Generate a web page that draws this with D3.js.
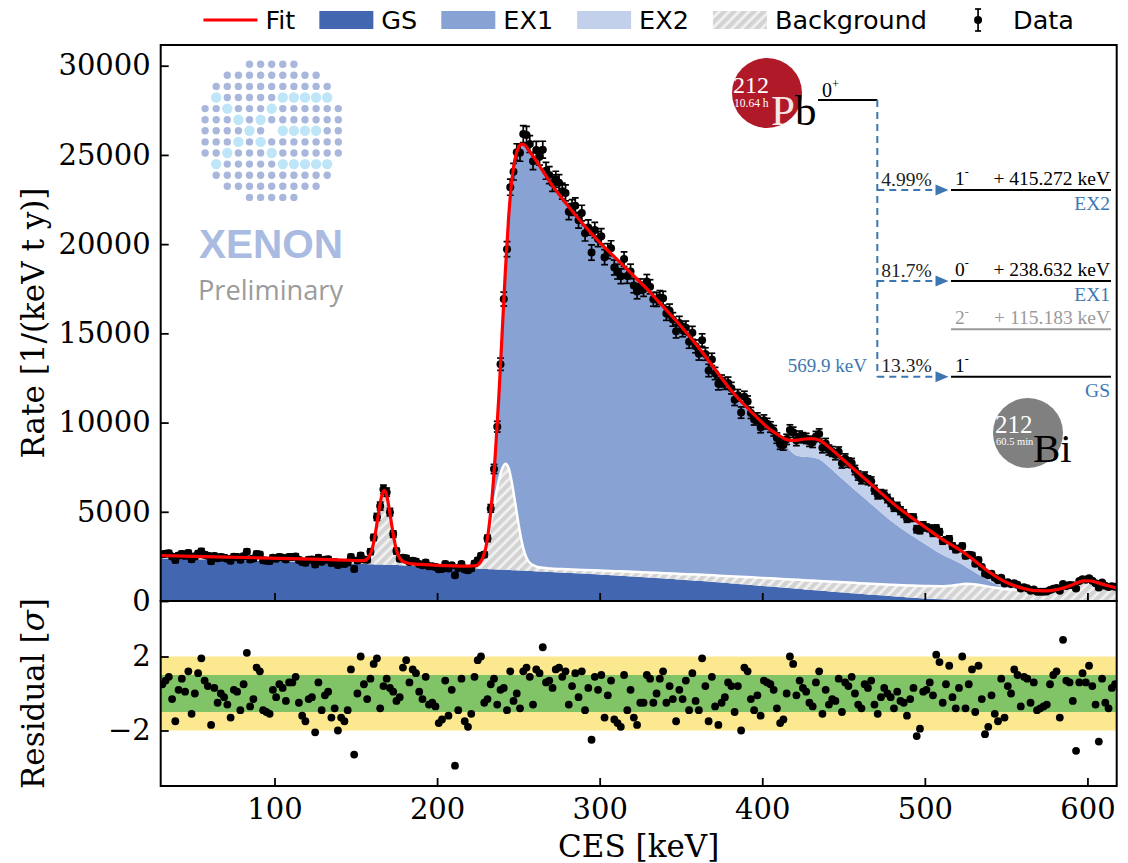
<!DOCTYPE html>
<html>
<head>
<meta charset="utf-8">
<script src="https://cdn.jsdelivr.net/npm/d3@7"></script>
<style>
  body {margin: 0; background: #ffffff;}
</style>
</head>
<body>
<div id="chart"></div>
<script>
//-- Fit components on an energy grid [keV] -> rate [1/(keV t y)]
var comp_energy = [30, 50, 70, 90, 110, 130, 150, 155, 158, 160, 162, 164, 166, 167.5, 169, 171, 173, 175, 177,
  180, 185, 190, 200, 210, 220, 224, 226, 228, 230, 232, 234, 236, 238, 240, 242, 244, 246, 248, 250,
  252, 254, 256, 260, 265, 270, 280, 290, 300, 310, 320, 330, 340, 350, 360, 370, 380, 390, 400, 405,
  410, 414, 418, 422, 426, 430, 435, 440, 450, 460, 470, 480, 490, 500, 510, 520, 525, 530, 540, 550,
  560, 566, 570, 575, 580, 585, 590, 594, 598, 602, 606, 612, 618];
var comp_gs = [2380, 2345, 2305, 2260, 2210, 2150, 2085, 2070, 2060, 2055, 2050, 2045, 2040, 2035, 2030, 2025, 2020, 2015, 2005,
  1995, 1975, 1955, 1915, 1875, 1835, 1818, 1810, 1802, 1794, 1786, 1778, 1770, 1762, 1754, 1746, 1738, 1730, 1722, 1714,
  1706, 1698, 1690, 1672, 1650, 1628, 1582, 1535, 1485, 1432, 1376, 1318, 1258, 1195, 1130, 1062, 992, 920, 846, 808,
  770, 740, 710, 680, 650, 620, 583, 546, 472, 400, 330, 262, 198, 140, 92, 55, 40, 28, 12, 4,
  1, 0, 0, 0, 0, 0, 0, 0, 0, 0, 0, 0, 0];
var comp_bg = [170, 155, 155, 160, 170, 180, 185, 190, 400, 840, 1720, 2880, 3880, 4160, 3880, 2880, 1720, 840, 400,
  175, 105, 95, 85, 95, 125, 170, 300, 600, 1150, 2000, 3050, 4100, 5000, 5650, 5950, 5700, 4900, 3800, 2650,
  1650, 950, 560, 300, 210, 190, 195, 205, 220, 240, 260, 280, 300, 325, 350, 375, 400, 425, 450, 462,
  475, 485, 495, 505, 515, 525, 538, 550, 575, 600, 625, 650, 675, 700, 740, 850, 920, 910, 780, 660,
  610, 590, 580, 570, 620, 720, 880, 1030, 1130, 1120, 1030, 870, 730];
var comp_ex1 = [0, 0, 0, 0, 0, 0, 0, 0, 0, 0, 0, 0, 0, 0, 0, 0, 0, 0, 0,
  0, 0, 0, 0, 0, 0, 0, 0, 0, 56, 414, 1172, 2630, 4738, 7596, 10804, 14062, 16970, 19278, 21036,
  22244, 22902, 23050, 22828, 22240, 21582, 20423, 19360, 18395, 17528, 16664, 15802, 14842, 13880, 12820, 11663, 10508, 9555, 8704, 8330,
  8055, 7605, 7145, 6935, 6915, 6905, 6819, 6504, 5733, 4980, 4245, 3518, 2907, 2360, 1798, 1275, 980, 722, 318, 56,
  0, 0, 0, 0, 0, 0, 0, 0, 0, 0, 0, 0, 0];
var comp_ex2 = [0, 0, 0, 0, 0, 0, 0, 0, 0, 0, 0, 0, 0, 0, 0, 0, 0, 0, 0,
  0, 0, 0, 0, 0, 0, 0, 0, 0, 0, 0, 0, 0, 0, 0, 0, 0, 0, 0, 0,
  0, 0, 0, 0, 0, 0, 0, 0, 0, 0, 0, 0, 0, 0, 0, 0, 0, 0, 0, 0,
  0, 250, 650, 900, 1000, 1050, 1080, 1100, 1120, 1120, 1100, 1070, 1020, 950, 870, 770, 710, 640, 490, 330,
  110, 10, 0, 0, 0, 0, 0, 0, 0, 0, 0, 0, 0];

//-- Data: 2 keV bins starting at 31 keV
var bin_first = 31;
var bin_width = 2;
var data_rate = [
  2620, 2650, 2670, 2490, 2300, 2550, 2640, 2530, 2690, 2340,
  2500, 2660, 2780, 2590, 2540, 2230, 2520, 2400, 2470, 2430,
  2370, 2260, 2480, 2460, 2310, 2510, 2760, 2330, 2380, 2630,
  2600, 2280, 2260, 2240, 2430, 2370, 2470, 2430, 2330, 2470,
  2470, 2500, 2300, 2190, 2140, 2310, 2320, 2040, 2430, 2200,
  2310, 2340, 2130, 2190, 2020, 2110, 2080, 2160, 2470, 1800,
  2270, 2550, 2330, 2310, 2760, 3560, 4710, 5320, 6260, 6100,
  4980, 3750, 2800, 2370, 2420, 2400, 2190, 2260, 2220, 2070,
  2000, 2160, 1950, 1950, 1910, 1780, 1800, 2080, 1820, 2000,
  1450, 1850, 2070, 1760, 1720, 1820, 2100, 2280, 2530, 2600,
  3510, 5190, 7400, 9770, 13270, 16920, 19720, 23190, 24060, 25150,
  25120, 26170, 26120, 25610, 24650, 25280, 24900, 25290, 24110, 23870,
  23420, 23630, 23440, 22970, 22870, 21820, 22050, 22150, 21340, 21740,
  20610, 20930, 19530, 20790, 20290, 20440, 19270, 19610, 19770, 18690,
  18460, 18200, 19160, 18210, 18470, 17680, 17340, 17650, 17470, 17900,
  17610, 16910, 16900, 17010, 16970, 16110, 16260, 15780, 15120, 15580,
  15180, 15320, 14530, 15030, 14270, 13860, 14620, 13840, 12920, 13540,
  12750, 12170, 12330, 12190, 12220, 11930, 11280, 11530, 10560, 11440,
  11180, 10540, 10170, 10240, 9730, 10130, 9940, 9750, 9540, 9130,
  8790, 8740, 9060, 9590, 9460, 8990, 9240, 9150, 9110, 8950,
  8890, 9220, 9360, 8590, 8830, 8460, 8380, 8190, 8360, 7720,
  7980, 7760, 7730, 7340, 7030, 6820, 6980, 6770, 6710, 6240,
  5960, 6010, 5970, 5740, 5530, 5250, 5310, 5060, 4900, 4620,
  4670, 4670, 4020, 3970, 4240, 4120, 4070, 3810, 4080, 3870,
  3360, 3420, 3480, 3080, 2880, 2940, 3080, 2530, 2590, 2560,
  2090, 2300, 1910, 1530, 1450, 1530, 1310, 1160, 1300, 980,
  1050, 950, 1000, 910, 700, 770, 720, 580, 640, 520,
  520, 520, 530, 620, 680, 730, 580, 950, 840, 900,
  880, 700, 1120, 1220, 1190, 1280, 1140, 1000, 750, 1030,
  850, 780, 830, 800];
var data_err = [
  150, 150, 150, 150, 150, 150, 150, 150, 150, 150,
  150, 150, 150, 150, 150, 150, 150, 150, 150, 150,
  148, 148, 148, 148, 148, 148, 148, 148, 148, 148,
  147, 147, 147, 147, 147, 147, 147, 147, 147, 147,
  145, 145, 145, 145, 145, 145, 145, 145, 145, 145,
  144, 144, 144, 144, 144, 144, 144, 144, 144, 144,
  143, 143, 143, 146, 154, 172, 197, 222, 235, 231,
  210, 183, 160, 147, 141, 139, 138, 137, 136, 136,
  134, 134, 134, 134, 134, 134, 134, 134, 134, 134,
  133, 133, 133, 133, 133, 133, 133, 135, 142, 155,
  180, 215, 255, 300, 345, 390, 425, 450, 467, 475,
  475, 475, 475, 475, 475, 475, 475, 475, 475, 475,
  458, 455, 452, 450, 448, 446, 444, 442, 440, 438,
  435, 433, 431, 429, 427, 425, 423, 421, 419, 417,
  415, 413, 411, 409, 407, 405, 403, 401, 399, 397,
  395, 392, 390, 388, 385, 383, 381, 378, 376, 374,
  371, 368, 366, 363, 360, 357, 354, 351, 348, 345,
  342, 339, 335, 332, 329, 326, 323, 320, 317, 315,
  312, 309, 307, 304, 301, 299, 296, 294, 292, 290,
  288, 287, 286, 285, 285, 285, 285, 286, 286, 286,
  286, 285, 285, 283, 281, 279, 276, 274, 271, 268,
  265, 263, 260, 257, 254, 251, 248, 246, 243, 240,
  237, 233, 230, 227, 224, 221, 218, 215, 212, 209,
  206, 204, 201, 198, 195, 192, 189, 186, 182, 179,
  176, 173, 170, 167, 164, 161, 158, 154, 150, 146,
  142, 137, 133, 128, 123, 118, 114, 109, 105, 100,
  96, 92, 89, 86, 82, 79, 77, 75, 73, 72,
  72, 72, 72, 72, 74, 76, 78, 80, 84, 87,
  91, 95, 98, 100, 101, 101, 100, 98, 95, 93,
  90, 87, 85, 83];
var data_resid = [
  0.5, 0.7, 0.9, -0.3, -1.5, 0.2, 0.8, 0.1, 1.2, -1.1,
  0.0, 1.1, 1.9, 0.7, 0.4, -1.7, 0.3, -0.5, 0.0, -0.2,
  -0.6, -1.3, 0.2, 0.1, -0.9, 0.5, 2.2, -0.7, -0.3, 1.4,
  1.2, -0.9, -1.0, -1.1, 0.2, -0.2, 0.5, 0.3, -0.4, 0.6,
  0.6, 0.9, -0.5, -1.2, -1.5, -0.3, -0.2, -2.1, 0.6, -0.9,
  -0.1, 0.1, -1.3, -0.8, -2.0, -1.3, -1.5, -0.9, 1.3, -3.3,
  0.0, 2.0, 0.5, -0.3, 0.8, 1.6, 1.9, -0.8, 0.4, 0.8,
  0.3, 0.1, -0.4, -0.2, 1.4, 1.8, 0.6, 1.3, 1.1, 0.1,
  -0.3, 0.9, -0.6, -0.5, -0.7, -1.6, -1.4, 0.7, -1.2, 0.2,
  -3.9, -0.9, 0.8, -1.5, -1.8, -1.1, 0.9, 1.8, 2.0, -0.5,
  -0.3, 0.5, 0.8, -0.6, 0.2, 0.3, -0.9, 1.2, -0.4, 0.0,
  -0.8, 1.2, 1.4, 0.9, -0.6, 1.3, 1.1, 2.5, 0.6, 0.7,
  0.3, 1.3, 1.4, 0.9, 1.2, -0.6, 0.4, 1.1, -0.2, 1.2,
  -0.9, 0.3, -2.5, 0.9, 0.2, 1.0, -1.3, -0.1, 0.7, -1.4,
  -1.6, -1.8, 1.0, -0.9, 0.2, -1.3, -1.7, -0.5, -0.5, 1.0,
  0.8, -0.5, 0.0, 0.8, 1.2, -0.5, 0.4, -0.3, -1.5, 0.2,
  -0.3, 0.7, -0.9, 1.1, -0.4, -0.9, 1.9, 0.4, -1.5, 0.9,
  -0.7, -1.7, -0.5, -0.2, 0.6, 0.4, -1.0, 0.4, -2.0, 1.4,
  1.2, -0.3, -0.9, -0.1, -1.2, 0.7, 0.6, 0.5, 0.2, -0.8,
  -1.6, -1.4, 0.0, 2.0, 1.6, -0.1, 0.7, 0.3, 0.1, -0.5,
  -0.7, 0.6, 1.2, -1.1, 0.2, -0.6, -0.3, -0.4, 0.8, -1.0,
  0.6, 0.4, 0.9, 0.0, -0.6, -0.8, 0.5, 0.3, 0.7, -0.6,
  -1.1, -0.2, 0.3, 0.0, -0.2, -0.8, 0.1, -0.4, -0.5, -1.2,
  -0.3, 0.3, -2.3, -1.9, 0.1, 0.2, 0.6, -0.1, 2.1, 1.7,
  -0.5, 0.5, 1.5, -0.2, -0.8, 0.3, 2.0, -0.8, 0.5, 1.3,
  -1.0, 1.5, -0.3, -2.2, -1.8, -0.1, -1.1, -1.5, 0.8, -1.3,
  0.4, 0.0, 1.3, 1.0, -0.7, 0.9, 0.8, -0.5, 0.6, -0.9,
  -0.8, -0.7, -0.6, 0.5, 1.0, 1.2, -1.3, 2.9, 0.7, 0.6,
  -0.4, -3.1, 0.6, 1.1, 0.6, 1.5, 0.4, -0.6, -2.6, 0.8,
  -0.5, -0.8, 0.3, 0.5];

//-- Axes
var x_domain = [30, 618];
var y_domain = [0, 31160];
var resid_domain = [-5, 5];
var x_ticks = [100, 200, 300, 400, 500, 600];
var y_ticks = [0, 5000, 10000, 15000, 20000, 25000, 30000];
var resid_ticks = [-2, 2];
var legend_label = ['Fit', 'GS', 'EX1', 'EX2', 'Background', 'Data'];

//-- Decay scheme texts
var parent_mass = '212', parent_elem = 'Pb', parent_life = '10.64 h', parent_spin = '0', parent_parity = '+';
var daughter_mass = '212', daughter_elem = 'Bi', daughter_life = '60.5 min';
var level_spin = ['1', '0', '2', '1'];
var level_parity = ['-', '-', '-', '-'];
var level_energy = ['+ 415.272 keV', '+ 238.632 keV', '+ 115.183 keV', ''];
var level_name = ['EX2', 'EX1', '', 'GS'];
var level_branch = ['4.99%', '81.7%', '', '13.3%'];
var q_value = '569.9 keV';

var serif = "'DejaVu Serif', serif";
var tex = "'Liberation Serif', serif";
var c_gs = '#4266b0', c_ex1 = '#89a2d4', c_ex2 = '#c2d0ec', c_fit = '#ff0000', c_blue = '#3d77b1';

function CES_Make_Canvas(wrap) {
  var tot_width = 1128;
  var tot_height = 863;
  var box = {left: 160.7, right: 1116.7, top: 45, mid: 601, bottom: 786};

  var svg = d3.select(wrap.id)
    .append('svg')
      .attr('width', tot_width)
      .attr('height', tot_height)
      .style('display', 'block');

  svg.append('rect')
      .attr('width', tot_width)
      .attr('height', tot_height)
      .attr('fill', 'white');

  var defs = svg.append('defs');
  var hatch = defs.append('pattern')
      .attr('id', 'hatch')
      .attr('patternUnits', 'userSpaceOnUse')
      .attr('width', 7)
      .attr('height', 7)
      .attr('patternTransform', 'rotate(45)');
  hatch.append('rect').attr('width', 7).attr('height', 7).attr('fill', '#f2f2f2');
  hatch.append('rect').attr('width', 4.3).attr('height', 7).attr('fill', '#d3d3d3');

  defs.append('clipPath')
      .attr('id', 'clip_main')
    .append('rect')
      .attr('x', box.left)
      .attr('y', box.top)
      .attr('width', box.right - box.left)
      .attr('height', box.mid - box.top);

  defs.append('clipPath')
      .attr('id', 'clip_resid')
    .append('rect')
      .attr('x', box.left)
      .attr('y', box.mid)
      .attr('width', box.right - box.left)
      .attr('height', box.bottom - box.mid);

  wrap.svg = svg;
  wrap.box = box;
  wrap.x = d3.scaleLinear().domain(x_domain).range([box.left, box.right]);
  wrap.y = d3.scaleLinear().domain(y_domain).range([box.mid, box.top]);
  wrap.yr = d3.scaleLinear().domain(resid_domain).range([box.bottom, box.mid]);
}

function CES_Format_Data(wrap) {
  var rows = [];
  var bins = [];
  var i;

  for (i=0; i<comp_energy.length; i++) {
    rows.push({energy: comp_energy[i], gs: comp_gs[i], bg: comp_bg[i], ex1: comp_ex1[i], ex2: comp_ex2[i]});
  }
  for (i=0; i<data_rate.length; i++) {
    bins.push({energy: bin_first + i*bin_width, rate: data_rate[i], err: data_err[i], resid: data_resid[i]});
  }

  wrap.stack = d3.stack().keys(['gs', 'bg', 'ex1', 'ex2'])(rows);
  wrap.bins = bins;
}

function CES_Draw_Main(wrap) {
  var x = wrap.x, y = wrap.y;
  var fills = [c_gs, 'url(#hatch)', c_ex1, c_ex2];

  var g = wrap.svg.append('g').attr('clip-path', 'url(#clip_main)');

  var area = d3.area()
    .x(function (d) {return x(d.data.energy);})
    .y0(function (d) {return y(d[0]);})
    .y1(function (d) {return y(d[1]);})
    .curve(d3.curveMonotoneX);

  g.selectAll('.comp')
    .data(wrap.stack)
    .enter()
    .append('path')
      .attr('class', 'comp')
      .attr('d', area)
      .attr('fill', function (d, i) {return fills[i];});

  //-- White edge on top of the background
  var top_line = d3.line()
    .x(function (d) {return x(d.data.energy);})
    .y(function (d) {return y(d[1]);})
    .curve(d3.curveMonotoneX);

  g.append('path')
      .attr('d', top_line(wrap.stack[1]))
      .attr('fill', 'none')
      .attr('stroke', 'white')
      .attr('stroke-width', 2.5);

  //-- Data with error bars
  var cap = 3.4;
  g.selectAll('.ebar')
    .data(wrap.bins)
    .enter()
    .append('line')
      .attr('class', 'ebar')
      .attr('x1', function (d) {return x(d.energy);})
      .attr('x2', function (d) {return x(d.energy);})
      .attr('y1', function (d) {return y(d.rate - d.err);})
      .attr('y2', function (d) {return y(d.rate + d.err);})
      .attr('stroke', '#000')
      .attr('stroke-width', 1.7);

  [-1, 1].forEach(function (s) {
    g.selectAll('.cap' + s)
      .data(wrap.bins)
      .enter()
      .append('line')
        .attr('x1', function (d) {return x(d.energy) - cap;})
        .attr('x2', function (d) {return x(d.energy) + cap;})
        .attr('y1', function (d) {return y(d.rate + s*d.err);})
        .attr('y2', function (d) {return y(d.rate + s*d.err);})
        .attr('stroke', '#000')
        .attr('stroke-width', 1.7);
  });

  g.selectAll('.pt')
    .data(wrap.bins)
    .enter()
    .append('circle')
      .attr('class', 'pt')
      .attr('cx', function (d) {return x(d.energy);})
      .attr('cy', function (d) {return y(d.rate);})
      .attr('r', 4)
      .attr('fill', '#000');

  //-- Fit = sum of the components
  var fit_line = d3.line()
    .x(function (d) {return x(d.data.energy);})
    .y(function (d) {return y(d[1]);})
    .curve(d3.curveMonotoneX);

  g.append('path')
      .attr('d', fit_line(wrap.stack[3]))
      .attr('fill', 'none')
      .attr('stroke', c_fit)
      .attr('stroke-width', 3.2);
}

function CES_Draw_Resid(wrap) {
  var x = wrap.x, yr = wrap.yr, box = wrap.box;
  var g = wrap.svg.append('g').attr('clip-path', 'url(#clip_resid)');

  g.append('rect')
      .attr('x', box.left)
      .attr('width', box.right - box.left)
      .attr('y', yr(2))
      .attr('height', yr(-2) - yr(2))
      .attr('fill', '#fce98f');

  g.append('rect')
      .attr('x', box.left)
      .attr('width', box.right - box.left)
      .attr('y', yr(1))
      .attr('height', yr(-1) - yr(1))
      .attr('fill', '#80c467');

  g.selectAll('.rpt')
    .data(wrap.bins)
    .enter()
    .append('circle')
      .attr('class', 'rpt')
      .attr('cx', function (d) {return x(d.energy);})
      .attr('cy', function (d) {return yr(d.resid);})
      .attr('r', 3.9)
      .attr('fill', '#000');
}

function CES_Style_Axis(sel) {
  sel.select('.domain').remove();
  sel.selectAll('.tick line').attr('stroke', '#000').attr('stroke-width', 1.8);
  sel.selectAll('.tick text')
    .attr('fill', '#000')
    .attr('font-family', serif)
    .attr('font-size', 29);
}

function CES_Draw_Axes(wrap) {
  var svg = wrap.svg, box = wrap.box;

  //-- Main panel
  svg.append('g')
    .attr('transform', 'translate(' + box.left + ',0)')
    .call(d3.axisLeft(wrap.y).tickValues(y_ticks).tickFormat(d3.format('d')).tickSize(-8).tickPadding(10))
    .call(CES_Style_Axis);

  svg.append('g')
    .attr('transform', 'translate(0,' + box.mid + ')')
    .call(d3.axisBottom(wrap.x).tickValues(x_ticks).tickFormat('').tickSize(-8))
    .call(CES_Style_Axis);

  //-- Residual panel
  svg.append('g')
    .attr('transform', 'translate(' + box.left + ',0)')
    .call(d3.axisLeft(wrap.yr).tickValues(resid_ticks).tickFormat(d3.format('d')).tickSize(-8).tickPadding(10))
    .call(CES_Style_Axis);

  svg.append('g')
    .attr('transform', 'translate(0,' + box.bottom + ')')
    .call(d3.axisBottom(wrap.x).tickValues(x_ticks).tickSize(-8).tickPadding(12))
    .call(CES_Style_Axis);

  //-- Frames
  svg.append('rect')
      .attr('x', box.left).attr('y', box.top)
      .attr('width', box.right - box.left).attr('height', box.mid - box.top)
      .attr('fill', 'none').attr('stroke', '#000').attr('stroke-width', 2);
  svg.append('rect')
      .attr('x', box.left).attr('y', box.mid)
      .attr('width', box.right - box.left).attr('height', box.bottom - box.mid)
      .attr('fill', 'none').attr('stroke', '#000').attr('stroke-width', 2);

  //-- Axis labels
  svg.append('text')
      .attr('transform', 'translate(44,' + (box.top + box.mid)/2 + ') rotate(-90)')
      .attr('text-anchor', 'middle')
      .attr('font-family', serif)
      .attr('font-size', 31)
      .text('Rate [1/(keV t y)]');

  var rl = svg.append('text')
      .attr('transform', 'translate(44,' + (box.mid + box.bottom)/2 + ') rotate(-90)')
      .attr('text-anchor', 'middle')
      .attr('font-family', serif)
      .attr('font-size', 31);
  rl.append('tspan').text('Residual [');
  rl.append('tspan').attr('font-style', 'italic').text('σ');
  rl.append('tspan').text(']');

  svg.append('text')
      .attr('x', (box.left + box.right)/2)
      .attr('y', 857)
      .attr('text-anchor', 'middle')
      .attr('font-family', serif)
      .attr('font-size', 31)
      .text('CES [keV]');
}

function CES_Draw_Legend(wrap) {
  var font_size = 25.5;
  var handle_w = 54, handle_h = 18, pad = 8, col_sp = 24;
  var y_mid = 20;
  var g = wrap.svg.append('g').attr('class', 'legend');
  var x_pos = 0;
  var i, item, w;

  for (i=0; i<legend_label.length; i++) {
    item = g.append('g').attr('transform', 'translate(' + x_pos + ',0)');
    if (i == 0) {
      item.append('line')
        .attr('x1', 0).attr('x2', handle_w).attr('y1', y_mid).attr('y2', y_mid)
        .attr('stroke', c_fit).attr('stroke-width', 3.2);
    }
    else if (i < 5) {
      item.append('rect')
        .attr('x', 0).attr('y', y_mid - handle_h/2)
        .attr('width', handle_w).attr('height', handle_h)
        .attr('fill', [null, c_gs, c_ex1, c_ex2, 'url(#hatch)'][i]);
    }
    else {
      item.append('line')
        .attr('x1', handle_w/2).attr('x2', handle_w/2).attr('y1', y_mid - 11).attr('y2', y_mid + 11)
        .attr('stroke', '#000').attr('stroke-width', 1.7);
      item.append('line')
        .attr('x1', handle_w/2 - 3).attr('x2', handle_w/2 + 3).attr('y1', y_mid - 11).attr('y2', y_mid - 11)
        .attr('stroke', '#000').attr('stroke-width', 1.7);
      item.append('line')
        .attr('x1', handle_w/2 - 3).attr('x2', handle_w/2 + 3).attr('y1', y_mid + 11).attr('y2', y_mid + 11)
        .attr('stroke', '#000').attr('stroke-width', 1.7);
      item.append('circle')
        .attr('cx', handle_w/2).attr('cy', y_mid).attr('r', 4).attr('fill', '#000');
    }
    var t = item.append('text')
        .attr('x', handle_w + pad)
        .attr('y', y_mid + 9)
        .attr('font-family', "'DejaVu Sans', sans-serif")
        .attr('font-size', font_size)
        .text(legend_label[i]);
    w = handle_w + pad + t.node().getComputedTextLength();
    x_pos += w + col_sp;
  }
  var total = x_pos - col_sp;
  g.attr('transform', 'translate(' + ((wrap.box.left + wrap.box.right)/2 - total/2) + ',0)');
}

function CES_Draw_Logo(wrap) {
  var cx = 271.7, cy = 130.8, step = 11.1;
  var half_span = [2, 4, 5, 5, 6, 6, 6, 6, 6, 5, 5, 4, 2];
  var light = {'-3': [-5, 1, 2, 3, 4, 5], '-2': [-4, 0], '-1': [-3, -1], '0': [-2, 1, 2, 3, 4],
               '1': [-3, -1], '2': [-4, 0], '3': [-5, 1, 2, 3, 4, 5]};
  var g = wrap.svg.append('g').attr('class', 'logo');
  var r, c, row, lit;

  for (r=-6; r<=6; r++) {
    row = half_span[r + 6];
    lit = light[String(r)] || [];
    for (c=-row; c<=row; c++) {
      if (r == 0 && c == 0) continue;
      var is_lit = lit.indexOf(c) >= 0;
      g.append('circle')
        .attr('cx', cx + c*step)
        .attr('cy', cy + r*step)
        .attr('r', is_lit ? 5.2 : 3.7)
        .attr('fill', is_lit ? '#bfe6f8' : '#a9b7dc');
    }
  }

  g.append('text')
      .attr('x', 199).attr('y', 258)
      .attr('font-family', "'Liberation Sans', Arial, sans-serif")
      .attr('font-weight', 'bold')
      .attr('font-size', 40.5)
      .attr('fill', '#a9bbe0')
      .text('XENON');
  g.append('text')
      .attr('x', 198).attr('y', 300)
      .attr('font-family', "'Open Sans', sans-serif")
      .attr('font-size', 27.2)
      .attr('fill', '#9b9b9b')
      .text('Preliminary');
}

function CES_Spin_Text(g, x, y, spin, parity, size, color) {
  var t = g.append('text')
      .attr('x', x).attr('y', y)
      .attr('font-family', tex)
      .attr('font-size', size)
      .attr('fill', color);
  t.append('tspan').text(spin);
  t.append('tspan').attr('dy', -0.45*size).attr('font-size', 0.62*size).text(parity);
}

function CES_Draw_Scheme(wrap) {
  var svg = wrap.svg;
  var g = svg.append('g').attr('class', 'scheme');
  var x_vert = 877.3, x_arrow = 948.5, x_lev0 = 951, x_lev1 = 1111;
  var level_y = [190, 281, 329.3, 376.7];
  var level_color = ['#000', '#000', '#9a9a9a', '#000'];
  var i, ly;

  //-- Parent nucleus
  g.append('circle').attr('cx', 767).attr('cy', 93).attr('r', 35).attr('fill', '#b01a28');
  g.append('text').attr('x', 733).attr('y', 92.5).attr('font-family', tex).attr('font-size', 24)
    .attr('fill', 'white').text(parent_mass);
  g.append('text').attr('x', 734).attr('y', 107).attr('font-family', tex).attr('font-size', 11.5)
    .attr('fill', 'white').text(parent_life);
  var pb = g.append('text').attr('x', 771).attr('y', 125).attr('font-family', tex).attr('font-size', 43);
  pb.append('tspan').attr('fill', '#f6e6e6').text(parent_elem.charAt(0));
  pb.append('tspan').attr('fill', '#000').text(parent_elem.slice(1));

  CES_Spin_Text(g, 822, 96.5, parent_spin, parent_parity, 20, '#000');
  g.append('line').attr('x1', 818).attr('x2', x_vert).attr('y1', 100).attr('y2', 100)
    .attr('stroke', '#000').attr('stroke-width', 2);

  //-- Beta branches
  g.append('line').attr('x1', x_vert).attr('x2', x_vert).attr('y1', 100).attr('y2', level_y[3])
    .attr('stroke', c_blue).attr('stroke-width', 2).attr('stroke-dasharray', '7,5');

  for (i=0; i<level_spin.length; i++) {
    ly = level_y[i];
    if (level_branch[i] != '') {
      g.append('line').attr('x1', x_vert).attr('x2', x_arrow - 12).attr('y1', ly).attr('y2', ly)
        .attr('stroke', c_blue).attr('stroke-width', 2).attr('stroke-dasharray', '7,5');
      g.append('path')
        .attr('d', 'M' + (x_arrow - 13) + ',' + (ly - 5.5) + 'L' + x_arrow + ',' + ly + 'L' + (x_arrow - 13) + ',' + (ly + 5.5) + 'Z')
        .attr('fill', c_blue);
      g.append('text').attr('x', x_vert + 4).attr('y', ly - 4.5).attr('font-family', tex)
        .attr('font-size', 19.5).attr('fill', '#222').text(level_branch[i]);
    }
    g.append('line').attr('x1', x_lev0).attr('x2', x_lev1).attr('y1', ly).attr('y2', ly)
      .attr('stroke', level_color[i]).attr('stroke-width', 2);
    CES_Spin_Text(g, 955, ly - 5, level_spin[i], level_parity[i], 19.5, level_color[i]);
    if (level_energy[i] != '') {
      g.append('text').attr('x', x_lev1 - 1).attr('y', ly - 5).attr('text-anchor', 'end')
        .attr('font-family', tex).attr('font-size', 19.5).attr('fill', level_color[i]).text(level_energy[i]);
    }
    if (level_name[i] != '') {
      g.append('text').attr('x', x_lev1 - 1).attr('y', ly + 20).attr('text-anchor', 'end')
        .attr('font-family', tex).attr('font-size', 19.5).attr('fill', c_blue).text(level_name[i]);
    }
  }

  g.append('text').attr('x', 867).attr('y', 372).attr('text-anchor', 'end')
    .attr('font-family', tex).attr('font-size', 19).attr('fill', c_blue).text(q_value);

  //-- Daughter nucleus
  g.append('circle').attr('cx', 1028).attr('cy', 433).attr('r', 35).attr('fill', '#808080');
  g.append('text').attr('x', 995).attr('y', 432.5).attr('font-family', tex).attr('font-size', 25)
    .attr('fill', 'white').text(daughter_mass);
  g.append('text').attr('x', 996).attr('y', 444.5).attr('font-family', tex).attr('font-size', 10.5)
    .attr('fill', 'white').text(daughter_life);
  g.append('text').attr('x', 1033).attr('y', 462).attr('font-family', tex).attr('font-size', 41)
    .attr('fill', '#000').text(daughter_elem);
}

var wrap = {id: '#chart'};
CES_Make_Canvas(wrap);
CES_Format_Data(wrap);
CES_Draw_Logo(wrap);
CES_Draw_Main(wrap);
CES_Draw_Resid(wrap);
CES_Draw_Axes(wrap);
CES_Draw_Scheme(wrap);
CES_Draw_Legend(wrap);
</script>
</body>
</html>
